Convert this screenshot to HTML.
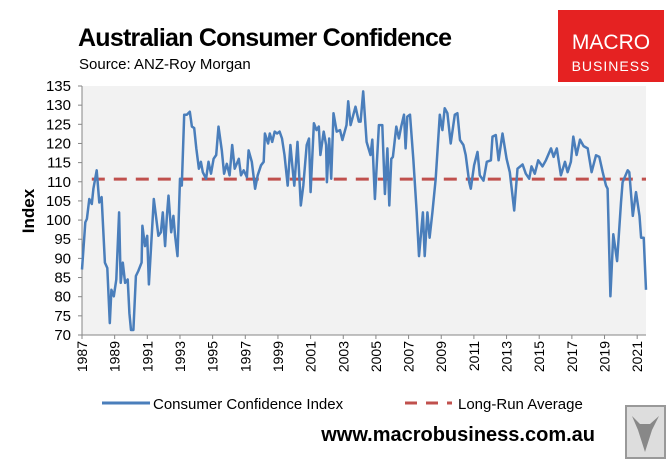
<!DOCTYPE html>
<html><head><meta charset="utf-8"><style>
body{margin:0;background:#fff;width:672px;height:468px;overflow:hidden;font-family:"Liberation Sans",sans-serif}
</style></head><body>
<svg id="chart" width="672" height="468" xmlns="http://www.w3.org/2000/svg">
<text x="78" y="46" font-size="25" font-weight="bold" fill="#000" textLength="374">Australian Consumer Confidence</text>
<text x="79" y="69" font-size="15" fill="#000">Source: ANZ-Roy Morgan</text>
<g>
<rect x="558" y="10" width="106" height="72" fill="#e52222"/>
<text x="611" y="49" font-size="21" fill="#fff" text-anchor="middle">MACRO</text>
<text x="611" y="71" font-size="14" fill="#fff" text-anchor="middle" letter-spacing="1">BUSINESS</text>
</g>
<rect x="82" y="86" width="564" height="249" fill="#f2f2f2"/>
<g id="yaxis"></g>
<g id="xaxis"></g>
<text transform="translate(34,211) rotate(-90)" font-size="17" font-weight="bold" text-anchor="middle">Index</text>
<g id="series"></g>
<g>
<g><line x1="102" y1="403" x2="150" y2="403" stroke="#4a7ebb" stroke-width="3"/><text x="153" y="409" font-size="15">Consumer Confidence Index</text></g>
<g><line x1="405" y1="403" x2="452" y2="403" stroke="#c0504d" stroke-width="3" stroke-dasharray="12,9"/><text x="458" y="409" font-size="15">Long-Run Average</text></g>
</g>
<text x="595" y="441" font-size="20" font-weight="bold" text-anchor="end">www.macrobusiness.com.au</text>
<g><rect x="626" y="406" width="39" height="52" fill="#ddd" stroke="#999" stroke-width="2"/><path d="M632 416 L638 430 L645 452 L652 430 L659 416 L650 424 L640 424 Z" fill="#888"/></g>
</svg>
<script>
const years=[1987.0,1987.2,1987.3,1987.45,1987.6,1987.7,1987.9,1988.06,1988.2,1988.4,1988.55,1988.7,1988.8,1988.95,1989.1,1989.27,1989.37,1989.5,1989.64,1989.8,1989.9,1990.0,1990.15,1990.3,1990.45,1990.65,1990.7,1990.86,1990.99,1991.1,1991.27,1991.4,1991.5,1991.68,1991.83,1991.95,1992.09,1992.2,1992.3,1992.46,1992.6,1992.7,1992.85,1993.0,1993.11,1993.26,1993.42,1993.6,1993.73,1993.87,1994.0,1994.16,1994.28,1994.4,1994.6,1994.75,1994.9,1995.06,1995.22,1995.36,1995.56,1995.7,1995.87,1996.04,1996.2,1996.35,1996.6,1996.74,1996.9,1997.1,1997.2,1997.4,1997.6,1997.76,1997.96,1998.13,1998.2,1998.4,1998.5,1998.65,1998.8,1998.95,1999.1,1999.25,1999.4,1999.6,1999.76,1999.9,2000.0,2000.2,2000.4,2000.55,2000.76,2000.9,2001.0,2001.2,2001.36,2001.5,2001.6,2001.8,2001.95,2002.0,2002.14,2002.26,2002.4,2002.6,2002.8,2002.95,2003.2,2003.3,2003.45,2003.75,2003.95,2004.06,2004.22,2004.43,2004.67,2004.78,2004.94,2005.18,2005.39,2005.55,2005.7,2005.82,2005.94,2006.04,2006.25,2006.41,2006.55,2006.72,2006.82,2006.92,2007.09,2007.29,2007.5,2007.64,2007.88,2007.99,2008.15,2008.29,2008.46,2008.66,2008.91,2009.07,2009.21,2009.38,2009.58,2009.83,2009.99,2010.15,2010.36,2010.5,2010.71,2010.81,2011.01,2011.22,2011.36,2011.59,2011.79,2012.04,2012.14,2012.34,2012.51,2012.75,2013.0,2013.2,2013.47,2013.67,2013.98,2014.18,2014.39,2014.53,2014.73,2014.94,2015.2,2015.41,2015.72,2015.88,2016.08,2016.33,2016.58,2016.74,2016.94,2017.09,2017.29,2017.5,2017.72,2017.97,2018.21,2018.48,2018.68,2018.89,2019.09,2019.19,2019.36,2019.54,2019.77,2020.01,2020.11,2020.42,2020.52,2020.73,2020.93,2021.14,2021.24,2021.4,2021.54];
const values=[87.1,99.4,100.3,105.5,104.2,108.2,113,104.6,106,88.9,87.5,73.1,81.8,80.1,84.5,102,83.6,88.9,83.6,84.5,75.7,71.3,71.3,85.4,86.7,88.9,98.5,93.2,95.9,83.2,95.9,105.5,102,95.9,96.8,102,93.2,101.1,106.4,96.8,101.1,95.9,90.6,110.8,109,127.5,127.5,128.3,124.4,124,118.7,113.4,115.2,112.5,110.8,115.2,112.1,116,117,124.4,118.2,112.1,114.7,111.7,119.6,113.4,116,111.7,113,111.2,118.2,115.2,108.2,111.7,114.3,115.2,122.6,120,122.6,120.4,123.1,122.6,123.1,121.3,117,109,119.6,113.4,109,120.4,103.8,109,119.6,121.3,107.3,125.3,123.5,124.4,117,123.1,119.6,109.9,121.3,110.8,127.9,123.1,123.5,120.9,124.8,131,124.8,129.6,125.7,125.7,133.6,120.4,117,121,105.5,124.8,124.8,106.8,118.7,103.8,116,116.5,124.4,121.3,124.4,127.5,118.7,127,127.5,116,102,90.6,102,90.6,102,95.4,102,110.8,127.5,123.5,129.2,127.9,120,127.5,127.9,120.9,119.6,117,109.9,108.2,114.3,117.8,111.7,110.3,115.2,115.6,121.8,122.2,115.6,122.6,116,112.5,102.5,113.4,114.5,112.1,110.8,114,112.1,115.6,114,115.6,118.7,116.5,118.7,111.7,115.2,112.5,115.2,121.8,117,121,119.3,118.7,112.5,116.9,116.5,112.5,109,108.2,80.1,96.3,89.3,104.6,109.9,113,112.5,101.1,107.3,101.1,95.4,95.4,81.8];
const averageValue=[110.7];
const yTicks=[70,75,80,85,90,95,100,105,110,115,120,125,130,135];
const xTickYears=[1987,1989,1991,1993,1995,1997,1999,2001,2003,2005,2007,2009,2011,2013,2015,2017,2019,2021];
const NS="http://www.w3.org/2000/svg";
const X0=82,X1=646,Y0=335,Y1=86,yr0=1987,yr1=2021.54;
function xs(y){return X0+(y-yr0)/(yr1-yr0)*(X1-X0);}
function ys(v){return Y0-(v-70)/(135-70)*(Y0-Y1);}
function mk(t,a,p){const e=document.createElementNS(NS,t);for(const k in a)e.setAttribute(k,a[k]);p.appendChild(e);return e;}
const ya=document.getElementById('yaxis'),xa=document.getElementById('xaxis'),se=document.getElementById('series');
mk('line',{x1:X0,y1:Y1,x2:X0,y2:Y0,stroke:'#868686','stroke-width':1},ya);
yTicks.forEach(v=>{mk('line',{x1:X0-4,y1:ys(v),x2:X0,y2:ys(v),stroke:'#868686'},ya);
const t=mk('text',{x:71,y:ys(v)+5,'font-size':15,'text-anchor':'end'},ya);t.textContent=v;

});
mk('line',{x1:X0,y1:Y0,x2:X1,y2:Y0,stroke:'#868686'},xa);
xTickYears.forEach(y=>{const x=xs(y);mk('line',{x1:x,y1:Y0,x2:x,y2:Y0+4,stroke:'#868686'},xa);
const t=mk('text',{transform:`translate(${x+5},${Y0+6}) rotate(-90)`,'font-size':14,'text-anchor':'end'},xa);t.textContent=y;

});
const av=mk('line',{x1:xs(1987.6),y1:ys(averageValue[0]),x2:X1,y2:ys(averageValue[0]),stroke:'#c0504d','stroke-width':3,'stroke-dasharray':'13,9'},se);


const ln=mk('path',{d:years.map((y,i)=>(i?'L':'M')+xs(y).toFixed(1)+' '+ys(values[i]).toFixed(1)).join(' '),fill:'none',stroke:'#4a7ebb','stroke-width':2.5,'stroke-linejoin':'round'},se);


</script>
</body></html>
